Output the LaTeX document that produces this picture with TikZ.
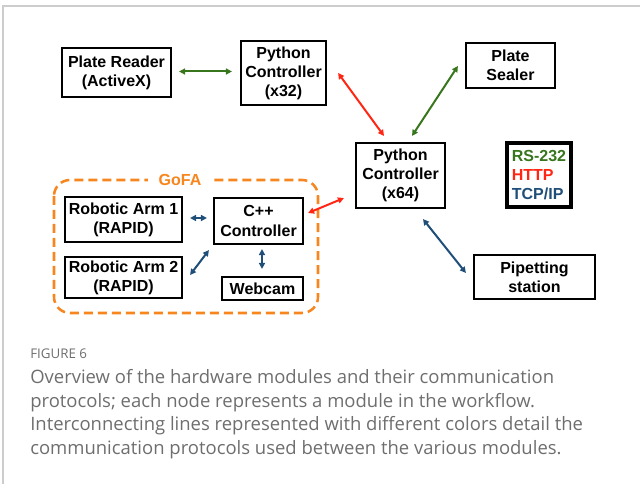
\documentclass[tikz,border=0pt]{standalone}
\usepackage{fontspec}
\setmainfont{Liberation Sans}
\newfontfamily\capfont{Open Sans}
\usetikzlibrary{arrows.meta,calc}

\definecolor{rsgreen}{RGB}{56,118,29}
\definecolor{httpred}{RGB}{255,38,20}
\definecolor{tcpblue}{RGB}{31,78,121}
\definecolor{gofaorange}{RGB}{247,134,30}
\definecolor{capgray}{RGB}{110,110,110}

\tikzset{
    box/.style 2 args={draw, line width=1.6pt, minimum width=#1*0.75pt,
        minimum height=#2*0.75pt, inner sep=0pt, align=center,
        font=\fontsize{12pt}{14.3pt}\selectfont\bfseries},
    link/.style={line width=1.5pt, {Triangle[length=4.5pt,width=4.5pt]}-{Triangle[length=4.5pt,width=4.5pt]}},
    rs/.style={link, rsgreen},
    http/.style={link, httpred},
    tcp/.style={link, tcpblue}
}

\begin{document}
\begin{tikzpicture}[x=0.75pt,y=-0.75pt]
    \useasboundingbox (0,0) rectangle (640,484);
    \draw[gray!40, line width=1.2pt] (3,484) -- (3,6) -- (640,6);

    % GoFA group
    \draw[gofaorange, line width=1.9pt, dash pattern=on 6.75pt off 3.75pt,
        rounded corners=12pt] (54,180) rectangle (318,313);
    \node[fill=white, inner xsep=8pt, inner ysep=1pt, text=gofaorange,
        font=\fontsize{12pt}{14pt}\selectfont\bfseries] (gofa) at (180,180) {GoFA};

    % modules
    \node[box={109}{49}] (pr) at (116.5,72.5) {Plate Reader\\(ActiveX)};
    \node[box={85}{64}] (pc32) at (283.5,73) {Python\\Controller\\(x32)};
    \node[box={89}{45}] (ps) at (510.5,65.5) {Plate\\Sealer};
    \node[box={89}{65}] (pc64) at (400.5,175.5) {Python\\Controller\\(x64)};
    \node[box={117}{45}] (arm1) at (123.5,219.5) {Robotic Arm 1\\(RAPID)};
    \node[box={89}{46}] (cpp) at (258.5,221) {C++\\Controller};
    \node[box={117}{41}] (arm2) at (123.5,277.5) {Robotic Arm 2\\(RAPID)};
    \node[box={81}{23}] (cam) at (262.5,288.5) {Webcam};
    \node[box={121}{44}] (pip) at (534.5,277) {Pipetting\\station};

    % legend
    \node[box={64}{64}, line width=2.3pt, align=left] (key) at (539,175)
        {\textcolor{rsgreen}{RS-232}\\\textcolor{httpred}{HTTP}\\\textcolor{tcpblue}{TCP/IP}};

    % connectors
    \draw[rs] ($(pr.east)+(7,-1)$) -- ($(pr.east -| pc32.west)+(-8,-1)$);
    \draw[http] ($(pc32.east)+(11,0)$) -- ($(pc64.north)+(-16.5,-6)$);
    \draw[rs] ($(pc64.north)+(11.5,-6)$) -- ($(ps.west)+(-7,0.5)$);
    \draw[http] ($(cpp.east)+(4,-8)$) -- ($(pc64.south west)+(-11,-11)$);
    \draw[tcp] ($(pc64.south)+(22.5,10)$) -- ($(pip.west)+(-7,-4)$);
    \draw[tcp] ($(arm1.east)+(7,-1.5)$) -- ($(arm1.east -| cpp.west)+(-6,-1.5)$);
    \draw[tcp] ($(arm2.east)+(7,-2.5)$) -- ($(cpp.south west)+(-4,5)$);
    \draw[tcp] ($(cam.north)+(-0.5,-7)$) -- ($(cam.north |- cpp.south)+(-0.5,4)$);

    % caption
    \node[anchor=base west, inner sep=0pt, text=capgray,
        font=\capfont\fontsize{10pt}{12pt}\selectfont] (fig) at (30,359) {FIGURE 6};
    \node[anchor=north west, inner sep=0pt, align=left, text=capgray,
        font=\capfont\fontsize{13.85pt}{17.8pt}\selectfont] (cap) at (30,369)
        {Overview of the hardware modules and their communication\\
         protocols; each node represents a module in the workflow.\\
         Interconnecting lines represented with different colors detail the\\
         communication protocols used between the various modules.};
\end{tikzpicture}
\end{document}
